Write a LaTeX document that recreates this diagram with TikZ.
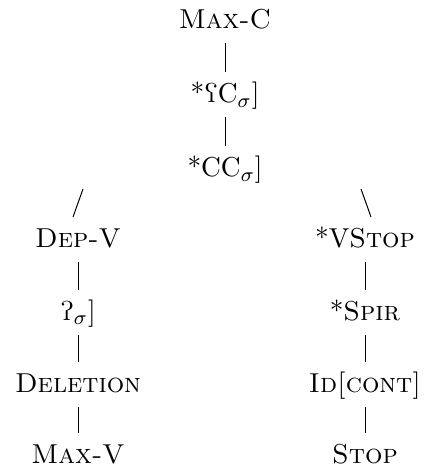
\documentclass[tikz,border=0pt]{standalone}
\usepackage{tipa}
\usetikzlibrary{positioning}
\tikzset{%
	con/.style  = {anchor=base, inner sep=0pt, font=\fontsize{10.95}{13.6}\selectfont, text height=7.7pt, text depth=2.75pt},
	link/.style = {shorten <=2.85pt, shorten >=4.3pt},
}

\begin{document}
\begin{tikzpicture}[x=0.4pt,y=-0.4pt]
		\useasboundingbox (0,0) rectangle (424,465);
		% top of the hierarchy
		\node[con] (maxc) at (225,29) {\textsc{Max-C}};
		\node[con] (phar) at (225,103) {*\textrevglotstop C$_\sigma$]};
		\node[con] (cc) at (225,177) {*CC$_\sigma$]};
		% left branch
		\node[con] (depv) at (78,247) {\textsc{Dep-V}};
		\node[con] (glot) at (78,320) {\textglotstop$_\sigma$]};
		\node[con] (del) at (78,392) {\textsc{Deletion}};
		\node[con] (maxv) at (78,463) {\textsc{Max-V}};
		% right branch
		\node[con] (vstop) at (365,247) {*V\textsc{Stop}};
		\node[con] (spir) at (365,320) {*\textsc{Spir}};
		\node[con] (idc) at (365,392) {\textsc{Id[cont]}};
		\node[con] (stop) at (365,463) {\textsc{Stop}};
		\draw[link] (maxc) -- (phar);
		\draw[link] (phar) -- (cc);
		\draw[link] (depv) -- (glot);
		\draw[link] (glot) -- (del);
		\draw[link] (del) -- (maxv);
		\draw[link] (vstop) -- (spir);
		\draw[link] (spir) -- (idc);
		\draw[link] (idc) -- (stop);
		% split below *CC
		\coordinate (la) at (83,189);
		\coordinate (lb) at (73,217);
		\coordinate (ra) at (361,189);
		\coordinate (rb) at (371,217);
		\draw (la) -- (lb);
		\draw (ra) -- (rb);
		\end{tikzpicture}
\end{document}
